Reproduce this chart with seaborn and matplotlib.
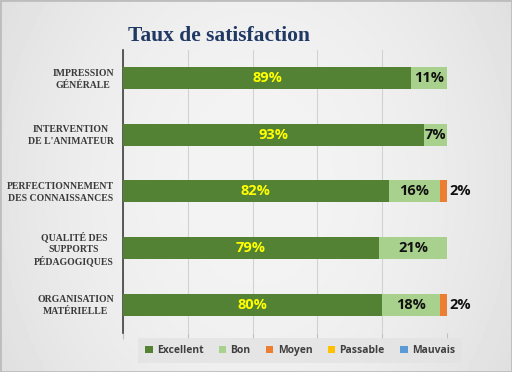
import numpy as np
import pandas as pd
import seaborn as sns
import matplotlib.pyplot as plt
from matplotlib.patches import Patch

categories = ["IMPRESSION\nGÉNÉRALE", "INTERVENTION\nDE L'ANIMATEUR",
              "PERFECTIONNEMENT\nDES CONNAISSANCES", "QUALITÉ DES\nSUPPORTS\nPÉDAGOGIQUES",
              "ORGANISATION\nMATÉRIELLE"]
series = ["Excellent", "Bon", "Moyen", "Passable", "Mauvais"]
excellent = [89, 93, 82, 79, 80]
bon = [11, 7, 16, 21, 18]
moyen = [0, 0, 2, 0, 2]
passable = [0, 0, 0, 0, 0]
mauvais = [0, 0, 0, 0, 0]
colors = ["#548235", "#a9d18e", "#ed7d31", "#ffc000", "#5b9bd5"]

sns.set_style("white")
plt.rcParams["font.family"] = ["DejaVu Sans"]

df = pd.DataFrame({"cat": categories, "Excellent": excellent, "Bon": bon,
                   "Moyen": moyen, "Passable": passable, "Mauvais": mauvais})
cum = df[series].cumsum(axis=1)

fig = plt.figure(figsize=(5.12, 3.72), dpi=100)
renderer = fig.canvas.get_renderer()

# soft gray gradient background
bg = fig.add_axes([0, 0, 1, 1], zorder=-10)
xx = np.linspace(-1, 1, 256)
yy = np.linspace(-1, 1, 186)
X, Y = np.meshgrid(xx, yy)
grad = 0.955 - 0.06 * (X ** 2) - 0.02 * (Y ** 2)
bg.imshow(grad, cmap="gray", vmin=0, vmax=1, aspect="auto", extent=[0, 1, 0, 1])
bg.plot([0, 1, 1, 0, 0], [0, 0, 1, 1, 0], color="#bdbdbd", lw=2)
bg.set_axis_off()

ax = fig.add_axes([0.240, 0.105, 0.633, 0.761])
ax.set_facecolor("none")

# stacked bars: draw cumulative totals from the outside in
for i in range(len(series) - 1, -1, -1):
    sns.barplot(x=cum[series[i]], y=df["cat"], color=colors[i], orient="h",
                width=0.39, linewidth=0, saturation=1, ax=ax, zorder=3)

ax.set_xlim(0, 100)
ax.set_xticks(np.arange(0, 101, 20))
ax.set_xticklabels([])
ax.grid(axis="x", color="#d2d2d2", lw=0.8, zorder=0)
ax.tick_params(axis="x", length=4, color="#bfbfbf", bottom=True)
ax.tick_params(axis="y", length=0)
ax.set_yticklabels([])
ax.set_xlabel("")
ax.set_ylabel("")
for s in ["top", "right", "bottom"]:
    ax.spines[s].set_visible(False)
ax.spines["left"].set_color("#404040")
ax.spines["left"].set_linewidth(1.2)

# category labels: centred lines, block right-aligned against the axis
lfont = {"family": "Liberation Serif", "weight": "bold", "size": 7, "color": "#3a3a3a"}
step = 8.8
for j, cat in enumerate(categories):
    lines = cat.split("\n")
    widths = []
    for ln in lines:
        t = ax.text(0, 0, ln, fontdict=lfont)
        widths.append(t.get_window_extent(renderer).width * 72 / fig.dpi)
        t.remove()
    cx = -6.5 - max(widths) / 2
    n = len(lines)
    for k, ln in enumerate(lines):
        dy = ((n - 1) / 2 - k) * step
        ax.annotate(ln, xy=(0, j), xycoords=("axes fraction", "data"),
                    xytext=(cx, dy), textcoords="offset points",
                    ha="center", va="center_baseline", fontsize=lfont["size"],
                    family=lfont["family"], weight=lfont["weight"], color=lfont["color"])

# value labels
vfont = {"family": "Open Sans", "weight": "bold", "size": 10.5}
for j in range(len(categories)):
    left = 0
    for i, s in enumerate(series):
        v = df[s][j]
        if v > 0:
            if i == 0:
                ax.text(left + v / 2, j, f"{v}%", ha="center", va="center",
                        color="#ffff00", zorder=5, fontdict=vfont)
            elif v >= 5:
                ax.text(left + v / 2, j, f"{v}%", ha="center", va="center",
                        color="#111111", zorder=5, fontdict=vfont)
            else:
                ax.text(left + v + 0.6, j, f"{v}%", ha="left", va="center",
                        color="#111111", zorder=5, fontdict=vfont)
        left += v

fig.text(0.25, 0.903, "Taux de satisfaction", fontsize=15.5, fontweight="bold",
         family="Liberation Serif", color="#1f3864", ha="left", va="center")

handles = [Patch(facecolor=c, edgecolor="none") for c in colors]
leg = fig.legend(handles, series, loc="center", bbox_to_anchor=(0.586, 0.058),
                 ncol=5, frameon=True, handlelength=0.7,
                 handleheight=0.7, handletextpad=0.4, columnspacing=1.5,
                 prop={"family": "Open Sans", "weight": "bold", "size": 7.5})
leg.get_frame().set_facecolor("#e3e3e3")
leg.get_frame().set_edgecolor("none")
leg.get_frame().set_boxstyle("square", pad=0.25)
for t in leg.get_texts():
    t.set_color("#404040")

fig.savefig("out.png", dpi=100)
